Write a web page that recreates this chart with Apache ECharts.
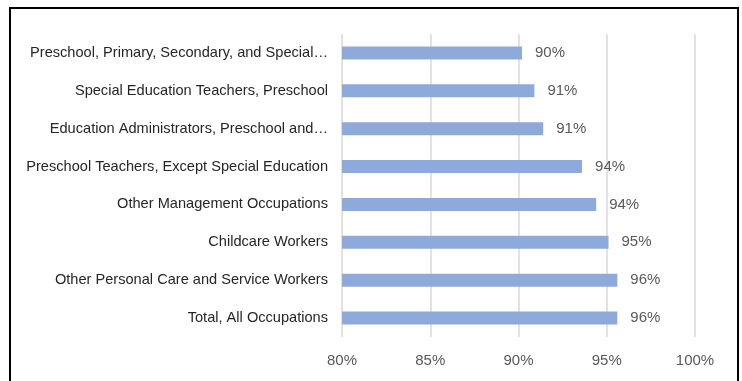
<!DOCTYPE html>
<html>
<head>
<meta charset="utf-8">
<script src="https://cdn.jsdelivr.net/npm/echarts@6/dist/echarts.min.js"></script>
<style>
html,body{margin:0;padding:0;background:#fff;}
#chart{width:742px;height:381px;}
</style>
</head>
<body>
<div id="chart"></div>
<script>
const categories = [
  "Total, All Occupations",
  "Other Personal Care and Service Workers",
  "Childcare Workers",
  "Other Management Occupations",
  "Preschool Teachers, Except Special Education",
  "Education Administrators, Preschool and\u2026",
  "Special Education Teachers, Preschool",
  "Preschool, Primary, Secondary, and Special\u2026"
];
const values = [95.6, 95.6, 95.1, 94.4, 93.6, 91.4, 90.9, 90.2];
const xTicks = [80, 85, 90, 95, 100];

const chart = echarts.init(document.getElementById('chart'));
chart.setOption({
  animation: false,
  backgroundColor: '#fff',
  graphic: [{
    type: 'rect',
    shape: { x: 10, y: 8, width: 728, height: 400 },
    style: { fill: 'none', stroke: '#000', lineWidth: 2 },
    silent: true
  }],
  grid: { left: 342, right: 47, top: 34, bottom: 44, containLabel: false },
  xAxis: {
    type: 'value',
    min: xTicks[0],
    max: xTicks[xTicks.length - 1],
    interval: 5,
    axisLine: { show: false },
    axisTick: { show: false },
    splitLine: { show: true, lineStyle: { color: '#d9d9d9', width: 1.5 } },
    axisLabel: {
      formatter: v => v + '%',
      color: '#595959',
      fontSize: 15,
      fontFamily: 'Liberation Sans',
      margin: 16
    }
  },
  yAxis: {
    type: 'category',
    data: categories,
    axisLine: { show: false },
    axisTick: { show: false },
    axisLabel: {
      color: '#262626',
      fontSize: 14.6,
      fontFamily: 'Liberation Sans',
      margin: 14
    }
  },
  series: [{
    type: 'bar',
    data: values,
    barWidth: 13,
    itemStyle: { color: '#8eaadb' },
    label: {
      show: true,
      position: 'right',
      distance: 13,
      formatter: p => Math.round(p.value) + '%',
      color: '#595959',
      fontSize: 15,
      fontFamily: 'Liberation Sans'
    }
  }]
});
</script>
</body>
</html>
